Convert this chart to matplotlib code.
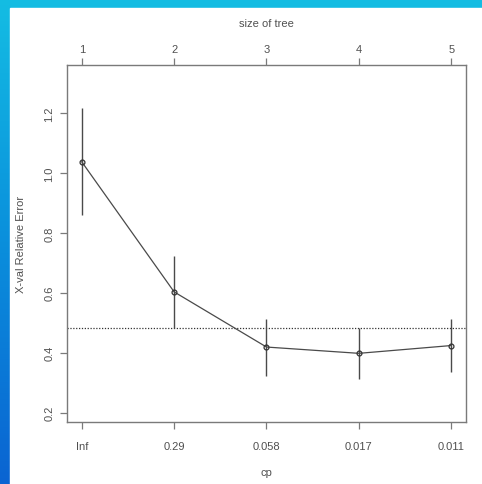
import numpy as np
import matplotlib
matplotlib.use("Agg")
import matplotlib.pyplot as plt
from matplotlib.colors import LinearSegmentedColormap

plt.rcParams["font.family"] = ["Liberation Sans", "DejaVu Sans"]

# Cross-validated error table of the pruned tree
tree_size = [1, 2, 3, 4, 5]
cp_labels = ["Inf", "0.29", "0.058", "0.017", "0.011"]
xerror = [1.037, 0.603, 0.419, 0.398, 0.424]
xstd = [0.179, 0.119, 0.095, 0.085, 0.088]

W, H = 482, 485
fig = plt.figure(figsize=(W / 100, H / 100), dpi=100)

# Slide background: cyan band along the top, blue gradient down the left
bg = fig.add_axes([0, 0, 1, 1])
bg.set_axis_off()
cmap = LinearSegmentedColormap.from_list("slide", ["#0a64d2", "#0a8fdc", "#14bde3"])
grad = np.linspace(0, 1, 256).reshape(-1, 1)
bg.imshow(grad, aspect="auto", cmap=cmap, extent=[0, 1, 0, 1], origin="lower")
bg.add_patch(plt.Rectangle((10 / W, 0), 1 - 10 / W, 1 - 9 / H, color="white", zorder=2))
bg.set_xlim(0, 1)
bg.set_ylim(0, 1)

# Plot region
x0, x1 = 67 / W, 466 / W
y0, y1 = 1 - 423 / H, 1 - 66 / H
ax = fig.add_axes([x0, y0, x1 - x0, y1 - y0])

frame = "#7a7a7a"
txt = "#505050"
fs = 8

x = np.array(tree_size)
err = np.array(xerror)
sd = np.array(xstd)

thr = err.min() + sd[np.argmin(err)]
ax.axhline(thr, color="#333333", lw=0.9, ls=(0, (1, 1.3)))
ax.vlines(x, err - sd, err + sd, color="#4a4a4a", lw=1.0)
ax.plot(x, err, color="#4a4a4a", lw=0.9, marker="o", ms=3.5,
        mfc="none", mec="#333333", mew=0.9)

span = x.max() - x.min()
ax.set_xlim(x.min() - 0.04 * span, x.max() + 0.04 * span)
lo = (err - sd).min() - 0.1
hi = (err + sd).max() + 0.1
ax.set_ylim(lo - 0.04 * (hi - lo), hi + 0.04 * (hi - lo))

ax.set_xticks(x)
ax.set_xticklabels(cp_labels)
ax.set_yticks([0.2, 0.4, 0.6, 0.8, 1.0, 1.2])
ax.set_yticklabels(["0.2", "0.4", "0.6", "0.8", "1.0", "1.2"], rotation=90, va="center")

for s in ax.spines.values():
    s.set_color(frame)
    s.set_linewidth(1.0)
ax.tick_params(axis="both", colors=frame, labelcolor=txt, labelsize=fs,
               length=5, width=0.9, pad=9)
ax.tick_params(axis="y", pad=4)

ax.set_xlabel("cp", color=txt, fontsize=fs, labelpad=11)
ax.set_ylabel("X-val Relative Error", color=txt, fontsize=fs, labelpad=13)

top = ax.twiny()
top.set_xlim(ax.get_xlim())
top.set_xticks(x)
top.set_xticklabels([str(v) for v in tree_size])
top.tick_params(axis="x", colors=frame, labelcolor=txt, labelsize=fs,
                length=5, width=0.9, pad=3)
top.set_xlabel("size of tree", color=txt, fontsize=fs, labelpad=13)
for s in top.spines.values():
    s.set_visible(False)

fig.savefig("out.png", dpi=100)
